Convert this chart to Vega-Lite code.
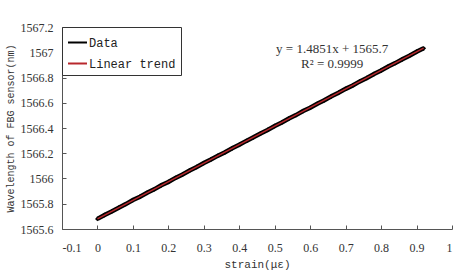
{
  "$schema": "https://vega.github.io/schema/vega-lite/v6.json",
  "autosize": {"type": "none"},
  "padding": {"left": 62, "top": 27, "right": 7, "bottom": 46},
  "width": 390,
  "height": 202,
  "background": "white",
  "config": {"view": {"stroke": null}},
  "datasets": {
    "pts": [
      {"strain": 0.00, "wl": 1565.680}, {"strain": 0.02, "wl": 1565.711}, {"strain": 0.04, "wl": 1565.739},
      {"strain": 0.06, "wl": 1565.769}, {"strain": 0.08, "wl": 1565.797}, {"strain": 0.10, "wl": 1565.829},
      {"strain": 0.12, "wl": 1565.856}, {"strain": 0.14, "wl": 1565.887}, {"strain": 0.16, "wl": 1565.914},
      {"strain": 0.18, "wl": 1565.946}, {"strain": 0.20, "wl": 1565.973}, {"strain": 0.22, "wl": 1566.005},
      {"strain": 0.24, "wl": 1566.032}, {"strain": 0.26, "wl": 1566.063}, {"strain": 0.28, "wl": 1566.091},
      {"strain": 0.30, "wl": 1566.122}, {"strain": 0.32, "wl": 1566.150}, {"strain": 0.34, "wl": 1566.181},
      {"strain": 0.36, "wl": 1566.208}, {"strain": 0.38, "wl": 1566.240}, {"strain": 0.40, "wl": 1566.267},
      {"strain": 0.42, "wl": 1566.298}, {"strain": 0.44, "wl": 1566.326}, {"strain": 0.46, "wl": 1566.357},
      {"strain": 0.48, "wl": 1566.385}, {"strain": 0.50, "wl": 1566.416}, {"strain": 0.52, "wl": 1566.443},
      {"strain": 0.54, "wl": 1566.475}, {"strain": 0.56, "wl": 1566.502}, {"strain": 0.58, "wl": 1566.534},
      {"strain": 0.60, "wl": 1566.561}, {"strain": 0.62, "wl": 1566.592}, {"strain": 0.64, "wl": 1566.620},
      {"strain": 0.66, "wl": 1566.651}, {"strain": 0.68, "wl": 1566.679}, {"strain": 0.70, "wl": 1566.710},
      {"strain": 0.72, "wl": 1566.737}, {"strain": 0.74, "wl": 1566.769}, {"strain": 0.76, "wl": 1566.796},
      {"strain": 0.78, "wl": 1566.828}, {"strain": 0.80, "wl": 1566.855}, {"strain": 0.82, "wl": 1566.887},
      {"strain": 0.84, "wl": 1566.914}, {"strain": 0.86, "wl": 1566.945}, {"strain": 0.88, "wl": 1566.973},
      {"strain": 0.90, "wl": 1567.004}, {"strain": 0.92, "wl": 1567.031}
    ],
    "notes": [
      {"strain": 0.662, "wl": 1567.025, "label": "y = 1.4851x + 1565.7"},
      {"strain": 0.662, "wl": 1566.905, "label": "R² = 0.9999"}
    ]
  },
  "encoding": {
    "x": {
      "field": "strain", "type": "quantitative",
      "scale": {"domain": [-0.1, 1], "nice": false, "zero": false},
      "axis": {
        "title": "strain(με)", "values": [-0.1, 0, 0.1, 0.2, 0.3, 0.4, 0.5, 0.6, 0.7, 0.8, 0.9, 1],
        "labelExpr": "(datum.value < 0 ? '-' : '') + format(abs(datum.value), '.1~f')",
        "grid": false, "domainColor": "#555555", "tickColor": "#555555",
        "tickSize": -4, "labelPadding": 17, "labelFont": "Liberation Serif", "labelFontSize": 12,
        "labelColor": "#333333", "titleFont": "Liberation Mono", "titleFontSize": 11,
        "titleFontWeight": "normal", "titleColor": "#333333", "titlePadding": 5
      }
    },
    "y": {
      "field": "wl", "type": "quantitative",
      "scale": {"domain": [1565.6, 1567.2], "nice": false, "zero": false},
      "axis": {
        "title": "Wavelength of FBG sensor(nm)", "values": [1565.6, 1565.8, 1566, 1566.2, 1566.4, 1566.6, 1566.8, 1567, 1567.2],
        "format": "~f", "grid": false, "domainColor": "#555555", "tickColor": "#555555",
        "tickSize": -4, "labelPadding": 13, "labelFont": "Liberation Serif", "labelFontSize": 12,
        "labelColor": "#333333", "titleFont": "Liberation Mono", "titleFontSize": 10,
        "titleFontWeight": "normal", "titleColor": "#333333", "titlePadding": 5
      }
    }
  },
  "layer": [
    {
      "data": {"name": "pts"},
      "mark": {"type": "line", "strokeWidth": 4.5, "point": {"shape": "diamond", "size": 24, "filled": true, "color": "black"}},
      "encoding": {
        "color": {"datum": "Data", "type": "nominal",
          "scale": {"domain": ["Data", "Linear trend"], "range": ["black", "#b8282d"]},
          "legend": {
            "title": null, "orient": "top-left", "offset": 0, "symbolType": "stroke", "symbolSize": 360,
            "symbolStrokeWidth": 2, "labelFont": "Liberation Mono", "labelFontSize": 12, "labelColor": "#222222",
            "strokeColor": "#333333", "fillColor": "white", "padding": 5, "rowPadding": 4, "labelOffset": 1
          }
        }
      }
    },
    {
      "data": {"name": "pts"},
      "transform": [{"regression": "wl", "on": "strain"}],
      "mark": {"type": "line", "strokeWidth": 1.5},
      "encoding": {"color": {"datum": "Linear trend", "type": "nominal"}}
    },
    {
      "data": {"name": "notes"},
      "mark": {"type": "text", "font": "Liberation Serif", "fontSize": 13, "color": "#333333", "align": "center"},
      "encoding": {"text": {"field": "label"}}
    }
  ]
}
